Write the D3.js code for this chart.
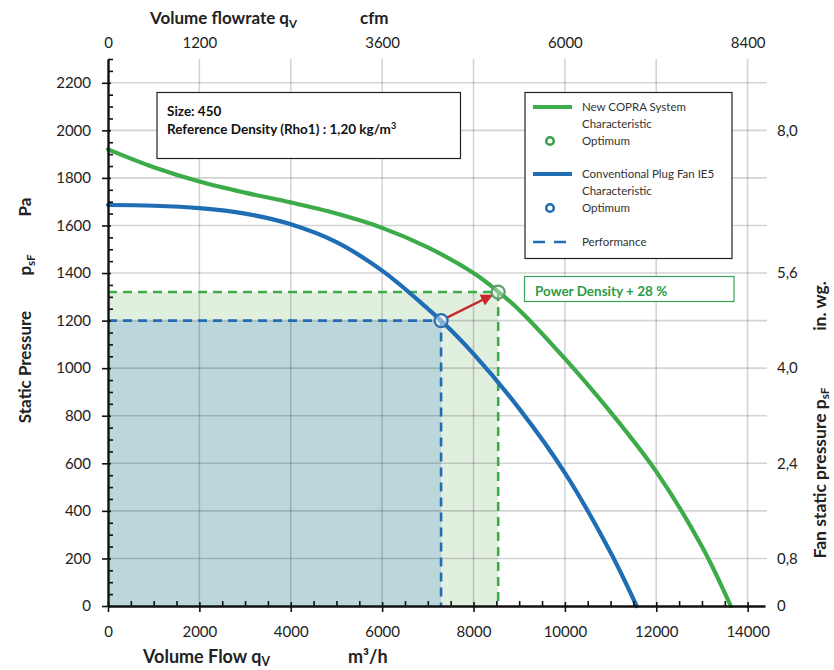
<!DOCTYPE html>
<html>
<head>
<meta charset="utf-8">
<script src="https://cdn.jsdelivr.net/npm/d3@7"></script>
<style>
  html, body { margin: 0; padding: 0; background: #fff; }
  svg { display: block; font-family: Lato, "Open Sans", sans-serif; }
</style>
</head>
<body>
<svg id="chart" width="834" height="670"></svg>
<script>
// Fan curves: volume flow (m³/h) vs static pressure (Pa)
const copraFlow     = [0, 1000, 2000, 3000, 4000, 5000, 6000, 7000, 8000, 8540, 9000, 10000, 11000, 12000, 13000, 13630];
const copraPressure = [1920, 1845, 1785, 1738, 1697, 1650, 1590, 1508, 1400, 1322, 1245, 1040, 815, 565, 250, 0];

const plugFlow      = [0, 1000, 2000, 3000, 4000, 5000, 6000, 7000, 7290, 8000, 9000, 10000, 11000, 11570];
const plugPressure  = [1686, 1683, 1673, 1650, 1605, 1530, 1410, 1250, 1200, 1060, 830, 560, 225, 0];

// Optimum operating points
const copraOptimum = { flow: 8540, pressure: 1320 };
const plugOptimum  = { flow: 7290, pressure: 1200 };

// Axis ticks
const flowTicks      = [0, 2000, 4000, 6000, 8000, 10000, 12000, 14000];
const pressureTicks  = [0, 200, 400, 600, 800, 1000, 1200, 1400, 1600, 1800, 2000, 2200];
const cfmTicks       = [0, 1200, 3600, 6000, 8400];
const inwgTicks      = [0, 0.8, 2.4, 4.0, 5.6, 8.0];
const legendLabels   = [["New COPRA System", "Characteristic"], "Optimum",
                        ["Conventional Plug Fan IE5", "Characteristic"], "Optimum", "Performance"];
const powerDensityGain = 28;

const GREEN = "#3cab4a";
const BLUE = "#1f6db4";
const FONT = "Lato, 'Open Sans', sans-serif";

const svg = d3.select("#chart");

const x = d3.scaleLinear().domain([0, 14380]).range([108, 765]);
const y = d3.scaleLinear().domain([0, 2300]).range([606, 59]);
// secondary scales: cfm on top (1 m³/h ≈ 0.6 cfm), in. wg. on the right (1 in. wg. ≈ 250 Pa)
const xCfm = d3.scaleLinear().domain([0, 14380 * 0.6]).range([108, 765]);
const yInwg = d3.scaleLinear().domain([0, 2300 / 250]).range([606, 59]);

const [x0, x1] = x.range();
const [y0, y1] = y.range();

// --- performance areas ---
svg.append("rect")
  .attr("x", x(0)).attr("y", y(copraOptimum.pressure))
  .attr("width", x(copraOptimum.flow) - x(0))
  .attr("height", y(0) - y(copraOptimum.pressure))
  .attr("fill", "#e1efdf");
svg.append("rect")
  .attr("x", x(0)).attr("y", y(plugOptimum.pressure))
  .attr("width", x(plugOptimum.flow) - x(0))
  .attr("height", y(0) - y(plugOptimum.pressure))
  .attr("fill", "#bcd7da");

// --- grid ---
const grid = svg.append("g").attr("stroke", "rgba(0,0,0,0.17)").attr("stroke-width", 1.6);
grid.selectAll("line.v").data(flowTicks.filter(d => d > 0)).join("line")
  .attr("x1", d => x(d)).attr("x2", d => x(d))
  .attr("y1", y1).attr("y2", y0);
grid.selectAll("line.h").data(pressureTicks.filter(d => d > 0)).join("line")
  .attr("x1", x0).attr("x2", x1 + 2)
  .attr("y1", d => y(d)).attr("y2", d => y(d));

// --- performance dashed guides ---
function guide(pt, color) {
  svg.append("path")
    .attr("d", `M${x(0)},${y(pt.pressure)}H${x(pt.flow)}V${y(0)}`)
    .attr("fill", "none").attr("stroke", color)
    .attr("stroke-width", 2.6).attr("stroke-dasharray", "9,6");
}
guide(copraOptimum, GREEN);
guide(plugOptimum, BLUE);

// --- curves ---
const line = d3.line().x(d => x(d[0])).y(d => y(d[1])).curve(d3.curveCatmullRom.alpha(0.5));
svg.append("path")
  .datum(d3.zip(copraFlow, copraPressure))
  .attr("d", line).attr("fill", "none")
  .attr("stroke", GREEN).attr("stroke-width", 4.2).attr("stroke-linecap", "round");
svg.append("path")
  .datum(d3.zip(plugFlow, plugPressure))
  .attr("d", line).attr("fill", "none")
  .attr("stroke", BLUE).attr("stroke-width", 4.2).attr("stroke-linecap", "round");

// --- arrow between optima ---
svg.append("defs").append("marker")
  .attr("id", "arrowHead").attr("viewBox", "0 0 10 10")
  .attr("refX", 9).attr("refY", 5)
  .attr("markerWidth", 5).attr("markerHeight", 5)
  .attr("markerUnits", "strokeWidth")
  .attr("orient", "auto")
  .append("path").attr("d", "M0,0L10,5L0,10z").attr("fill", "#c8262b");
{
  const ax = x(plugOptimum.flow), ay = y(plugOptimum.pressure);
  const bx = x(copraOptimum.flow), by = y(copraOptimum.pressure);
  const len = Math.hypot(bx - ax, by - ay);
  const ux = (bx - ax) / len, uy = (by - ay) / len;
  svg.append("line")
    .attr("x1", ax + ux * 6).attr("y1", ay + uy * 6)
    .attr("x2", bx - ux * 7).attr("y2", by - uy * 7)
    .attr("stroke", "#c8262b").attr("stroke-width", 2.4)
    .attr("marker-end", "url(#arrowHead)");
}

// --- optimum markers ---
svg.append("circle")
  .attr("cx", x(copraOptimum.flow)).attr("cy", y(copraOptimum.pressure)).attr("r", 6.5)
  .attr("fill", "rgba(255,255,255,0.35)").attr("stroke", "#5e9e6c").attr("stroke-width", 2.2);
svg.append("circle")
  .attr("cx", x(plugOptimum.flow)).attr("cy", y(plugOptimum.pressure)).attr("r", 6.5)
  .attr("fill", "rgba(255,255,255,0.45)").attr("stroke", "#2b6fb3").attr("stroke-width", 2.2);

// --- axes ---
function styleAxis(g) {
  g.attr("font-family", FONT).attr("font-size", 15);
  g.selectAll("text").attr("fill", "#222");
}

// left axis: minor ticks every 50 Pa inside, major ticks crossing
svg.append("g").attr("transform", `translate(${x0},0)`)
  .call(d3.axisLeft(y).tickValues(d3.range(0, 2301, 50).filter(d => d % 200 !== 0))
        .tickSize(0).tickFormat(""))
  .call(g => g.select(".domain").remove())
  .call(g => g.selectAll(".tick line").attr("x1", 0).attr("x2", 5)
                .attr("stroke", "#111").attr("stroke-width", 1.6));
svg.append("g").attr("transform", `translate(${x0},0)`)
  .call(d3.axisLeft(y).tickValues(pressureTicks).tickSizeInner(6).tickSizeOuter(0).tickPadding(11)
        .tickFormat(d3.format("d")))
  .call(styleAxis)
  .call(g => g.select(".domain").attr("stroke", "#111").attr("stroke-width", 2.4))
  .call(g => g.selectAll(".tick line").attr("x1", 3).attr("x2", -6)
                .attr("stroke", "#111").attr("stroke-width", 1.6));

// bottom axis: minor ticks every 500 m³/h inside
svg.append("g").attr("transform", `translate(0,${y0})`)
  .call(d3.axisBottom(x).tickValues(d3.range(500, 14380, 500).filter(d => d % 2000 !== 0))
        .tickSize(0).tickFormat(""))
  .call(g => g.select(".domain").remove())
  .call(g => g.selectAll(".tick line").attr("y1", 0).attr("y2", -5)
                .attr("stroke", "#111").attr("stroke-width", 1.6));
svg.append("g").attr("transform", `translate(0,${y0})`)
  .call(d3.axisBottom(x).tickValues(flowTicks).tickSizeInner(6).tickSizeOuter(0).tickPadding(14)
        .tickFormat(d3.format("d")))
  .call(styleAxis)
  .call(g => g.select(".domain").attr("stroke", "#111").attr("stroke-width", 2.4))
  .call(g => g.selectAll(".tick line").attr("y1", -4).attr("y2", 6)
                .attr("stroke", "#111").attr("stroke-width", 1.6));

// top axis: cfm
svg.append("g").attr("transform", `translate(0,${y1})`)
  .call(d3.axisTop(xCfm).tickValues(cfmTicks).tickSize(0).tickPadding(11).tickFormat(d3.format("d")))
  .call(styleAxis)
  .call(g => g.select(".domain").remove());

// right axis: in. wg.
svg.append("g").attr("transform", `translate(${x1},0)`)
  .call(d3.axisRight(yInwg).tickValues(inwgTicks).tickSize(0).tickPadding(12)
        .tickFormat(d => d === 0 ? "0" : d.toFixed(1).replace(".", ",")))
  .call(styleAxis)
  .call(g => g.select(".domain").remove());

// --- axis titles ---
function title(parent, xPos, yPos, parts, opts = {}) {
  const size = opts.size || 17;
  const t = parent.append("text")
    .attr("x", xPos).attr("y", yPos)
    .attr("font-family", FONT).attr("font-weight", 700)
    .attr("font-size", size).attr("fill", "#222")
    .attr("text-anchor", opts.anchor || "start");
  if (opts.rotate) t.attr("transform", `rotate(-90,${xPos},${yPos})`);
  parts.forEach(p => {
    if (typeof p === "string") t.append("tspan").text(p);
    else t.append("tspan").attr("font-size", size * 0.68).attr("dy", p.dy).text(p.sub);
  });
  return t;
}

// bottom title
title(svg, 143, 663, ["Volume Flow q", { sub: "V", dy: 3 }], { size: 18 });
title(svg, 348, 663, ["m³/h"], { size: 18 });
// top title
title(svg, 150, 24, ["Volume flowrate  q", { sub: "V", dy: 4 }]);
title(svg, 360, 24, ["cfm"]);
// left titles (rotated)
title(svg, 31, 367, ["Static Pressure"], { rotate: true, anchor: "middle" });
title(svg, 31, 265, ["p", { sub: "sF", dy: 4 }], { rotate: true, anchor: "middle" });
title(svg, 31, 207, ["Pa"], { rotate: true, anchor: "middle" });
// right titles (rotated)
title(svg, 826, 473, ["Fan static pressure p", { sub: "sF", dy: 3 }], { rotate: true, anchor: "middle", size: 17.5 });
title(svg, 826, 306, ["in. wg."], { rotate: true, anchor: "middle", size: 17.5 });

// --- info box ---
const info = svg.append("g");
info.append("rect").attr("x", 157).attr("y", 92.5).attr("width", 303.5).attr("height", 66)
  .attr("fill", "#fff").attr("stroke", "#222").attr("stroke-width", 1.2);
info.append("text").attr("x", 167).attr("y", 116)
  .attr("font-family", FONT).attr("font-weight", 700).attr("font-size", 13.5).attr("fill", "#111")
  .text("Size: 450");
const dens = info.append("text").attr("x", 167).attr("y", 134)
  .attr("font-family", FONT).attr("font-weight", 700).attr("font-size", 13.5).attr("fill", "#111");
dens.append("tspan").text("Reference Density (Rho1) : 1,20 kg/m");
dens.append("tspan").attr("font-size", 9).attr("dy", -5).text("3");

// --- legend ---
const legend = svg.append("g");
legend.append("rect").attr("x", 525).attr("y", 92.5).attr("width", 207).attr("height", 166)
  .attr("fill", "#fff").attr("stroke", "#222").attr("stroke-width", 1.2);
const legendRows = [
  { y: 107, kind: "line", color: GREEN, label: legendLabels[0] },
  { y: 141, kind: "dot", color: "#3a9f4b", label: legendLabels[1] },
  { y: 174, kind: "line", color: BLUE, label: legendLabels[2] },
  { y: 208, kind: "dot", color: BLUE, label: legendLabels[3] },
  { y: 242, kind: "dash", color: BLUE, label: legendLabels[4] }
];
legendRows.forEach(r => {
  if (r.kind === "line") {
    legend.append("line").attr("x1", 533).attr("x2", 572).attr("y1", r.y).attr("y2", r.y)
      .attr("stroke", r.color).attr("stroke-width", 4);
  } else if (r.kind === "dot") {
    legend.append("circle").attr("cx", 550).attr("cy", r.y).attr("r", 3.8)
      .attr("fill", "#fff").attr("stroke", r.color).attr("stroke-width", 2.6);
  } else {
    legend.append("line").attr("x1", 533).attr("x2", 568).attr("y1", r.y).attr("y2", r.y)
      .attr("stroke", r.color).attr("stroke-width", 2.6).attr("stroke-dasharray", "12,9");
  }
  const lines = Array.isArray(r.label) ? r.label : [r.label];
  lines.forEach((txt, i) => {
    legend.append("text").attr("x", 582).attr("y", r.y + 4 + i * 17)
      .attr("font-family", FONT).attr("font-size", 11.5).attr("fill", "#333").text(txt);
  });
});

// --- power density callout ---
const callout = svg.append("g");
callout.append("rect").attr("x", 524.5).attr("y", 276.5).attr("width", 209.5).attr("height", 25)
  .attr("fill", "#fff").attr("stroke", "#3aa35a").attr("stroke-width", 1.2);
callout.append("text").attr("x", 535).attr("y", 296)
  .attr("font-family", FONT).attr("font-weight", 700).attr("font-size", 13.5).attr("fill", "#2e9a48")
  .text(`Power Density + ${powerDensityGain} %`);
</script>
</body>
</html>
